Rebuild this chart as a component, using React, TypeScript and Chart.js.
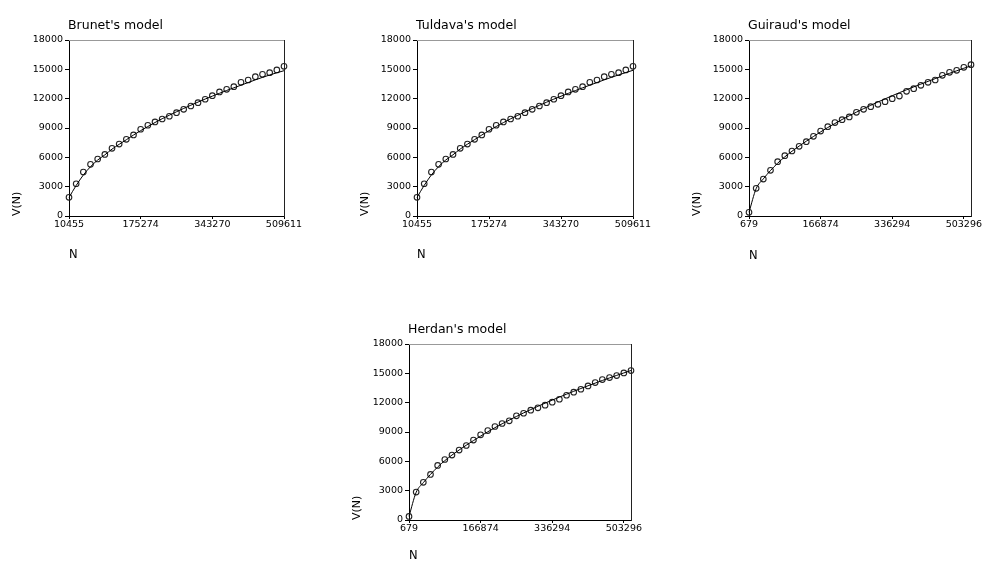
import React, { useEffect, useRef } from "react";
import { Chart, registerables } from "chart.js";

Chart.register(...registerables);

// ---------- data ----------
const yTickValues = [0, 3000, 6000, 9000, 12000, 15000, 18000];
const xTickEvery = 10;

const brunetXTicks = ["10455", "175274", "343270", "509611"];
const brunetObserved = [1910, 3300, 4500, 5280, 5830, 6300, 6920, 7360, 7840, 8290, 8870, 9280, 9620, 9920, 10200, 10570, 10910, 11250, 11590, 11940, 12310, 12690, 12960, 13230, 13670, 13910, 14250, 14490, 14660, 14940, 15310];
const brunetFitted = [1900, 3120, 4190, 5040, 5720, 6250, 6840, 7330, 7800, 8280, 8730, 9150, 9560, 9950, 10310, 10660, 11000, 11330, 11650, 11960, 12260, 12550, 12840, 13110, 13380, 13650, 13920, 14180, 14420, 14650, 14860];

const tuldavaXTicks = ["10455", "175274", "343270", "509611"];
const tuldavaObserved = [1910, 3300, 4500, 5280, 5830, 6300, 6920, 7360, 7840, 8290, 8870, 9280, 9620, 9920, 10200, 10570, 10910, 11250, 11590, 11940, 12310, 12690, 12960, 13230, 13670, 13910, 14250, 14490, 14660, 14940, 15310];
const tuldavaFitted = [1900, 3130, 4200, 5050, 5730, 6260, 6850, 7340, 7810, 8280, 8730, 9150, 9550, 9940, 10300, 10650, 10990, 11320, 11640, 11950, 12250, 12540, 12830, 13110, 13380, 13650, 13920, 14180, 14430, 14670, 14900];

const guiraudXTicks = ["679", "166874", "336294", "503296"];
const guiraudObserved = [380, 2830, 3780, 4670, 5560, 6170, 6650, 7130, 7600, 8150, 8690, 9140, 9550, 9850, 10130, 10600, 10910, 11180, 11420, 11690, 12000, 12270, 12750, 13020, 13360, 13670, 13910, 14390, 14690, 14900, 15210, 15480];
const guiraudFitted = [380, 2800, 3800, 4650, 5400, 6050, 6620, 7150, 7650, 8130, 8600, 9050, 9460, 9870, 10250, 10620, 10980, 11320, 11660, 11980, 12300, 12610, 12910, 13200, 13490, 13770, 14050, 14320, 14590, 14850, 15110, 15360];

const herdanXTicks = ["679", "166874", "336294", "503296"];
const herdanObserved = [370, 2860, 3850, 4660, 5580, 6190, 6640, 7150, 7620, 8170, 8710, 9150, 9560, 9870, 10140, 10650, 10920, 11230, 11470, 11740, 12050, 12350, 12760, 13070, 13370, 13710, 14050, 14360, 14570, 14770, 15040, 15280];
const herdanFitted = [370, 2830, 3820, 4660, 5420, 6070, 6640, 7160, 7650, 8120, 8580, 9020, 9440, 9840, 10220, 10590, 10950, 11290, 11630, 11950, 12260, 12570, 12870, 13160, 13450, 13730, 14000, 14270, 14530, 14790, 15040, 15290];

const FONT = "'DejaVu Sans', Verdana, sans-serif";

type PanelProps = {
  title: string;
  xTicks: string[];
  observed: number[];
  fitted: number[];
  left: number;
  top: number;
  right: number;
  bottom: number;
  xTitleGap: number;
};

const PAD_TOP = 40;
const Y_W = 65;
const PAD_RIGHT = 25;
const X_H = 50;

function Panel(props: PanelProps) {
  const ref = useRef<HTMLCanvasElement | null>(null);
  const { title, xTicks, observed, fitted, left, top, right, bottom, xTitleGap } = props;
  const cw = Y_W + (right - left) + PAD_RIGHT;
  const ch = PAD_TOP + (bottom - top) + X_H;

  useEffect(() => {
    const canvas = ref.current;
    if (!canvas) return;

    const framePlugin = {
      id: "frameAndTitle",
      afterDraw(chart: any) {
        const { ctx, chartArea } = chart;
        ctx.save();
        ctx.lineWidth = 1;
        ctx.strokeStyle = "#999999";
        ctx.beginPath();
        ctx.moveTo(chartArea.left, chartArea.top + 0.5);
        ctx.lineTo(chartArea.right, chartArea.top + 0.5);
        ctx.stroke();
        ctx.strokeStyle = "#222222";
        ctx.beginPath();
        ctx.moveTo(chartArea.right + 0.5, chartArea.top);
        ctx.lineTo(chartArea.right + 0.5, chartArea.bottom + 1);
        ctx.stroke();
        ctx.fillStyle = "#000000";
        ctx.font = `12.5px ${FONT}`;
        ctx.textAlign = "left";
        ctx.textBaseline = "alphabetic";
        ctx.fillText(title, chartArea.left - 1, chartArea.top - 11);
        ctx.restore();
      },
    };

    const xTitleOffset = X_H - xTitleGap;
    const xTitleLH = 11.5 * 1.2;

    const chart = new Chart(canvas, {
      type: "scatter",
      data: {
        datasets: [
          {
            data: fitted.map((v, i) => ({ x: i, y: v })),
            showLine: true,
            borderColor: "#000000",
            borderWidth: 1,
            pointRadius: 0,
            cubicInterpolationMode: "monotone",
            clip: false,
          } as any,
          {
            data: observed.map((v, i) => ({ x: i, y: v })),
            showLine: false,
            pointRadius: 2.8,
            pointBorderWidth: 1.1,
            borderColor: "#222222",
            backgroundColor: "rgba(255,255,255,0)",
            clip: false,
          } as any,
        ],
      },
      options: {
        responsive: false,
        animation: false,
        layout: { padding: { top: PAD_TOP, right: PAD_RIGHT, left: 0, bottom: 0 } },
        plugins: {
          legend: { display: false },
          tooltip: { enabled: false },
          title: { display: false },
        },
        scales: {
          x: {
            type: "linear",
            min: 0,
            max: observed.length - 1,
            afterBuildTicks: (s: any) => {
              s.ticks = xTicks.map((_, k) => ({ value: k * xTickEvery }));
            },
            afterFit: (s: any) => {
              s.height = X_H;
            },
            ticks: {
              callback: (_v: any, idx: number) => xTicks[idx],
              maxRotation: 0,
              minRotation: 0,
              autoSkip: false,
              padding: 0,
              color: "#000000",
              font: { family: FONT, size: 9.5 },
            },
            grid: { drawOnChartArea: false, drawTicks: true, tickLength: 3, color: "#000000" },
            border: { color: "#000000", width: 1 },
            title: {
              display: true,
              text: "N",
              align: "start",
              color: "#000000",
              font: { family: FONT, size: 11.5 },
              padding: { top: 0, bottom: xTitleOffset - xTitleLH / 2 },
            },
          },
          y: {
            type: "linear",
            min: 0,
            max: 18000,
            afterBuildTicks: (s: any) => {
              s.ticks = yTickValues.map((v) => ({ value: v }));
            },
            afterFit: (s: any) => {
              s.width = Y_W;
            },
            ticks: {
              callback: (v: any) => String(v),
              padding: 2,
              color: "#000000",
              font: { family: FONT, size: 9.5 },
            },
            grid: { drawOnChartArea: false, drawTicks: true, tickLength: 4, color: "#000000" },
            border: { color: "#000000", width: 1 },
            title: {
              display: true,
              text: "V(N)",
              align: "start",
              color: "#000000",
              font: { family: FONT, size: 11 },
              padding: { top: 13 - (11 * 1.2) / 2, bottom: 0 },
            },
          },
        },
      } as any,
      plugins: [framePlugin],
    });

    return () => {
      chart.destroy();
    };
  }, [title, xTicks, observed, fitted, left, top, right, bottom, xTitleGap]);

  return (
    <canvas
      ref={ref}
      width={cw}
      height={ch}
      style={{
        position: "absolute",
        left: left - Y_W,
        top: top - PAD_TOP,
        width: cw,
        height: ch,
      }}
    />
  );
}

export default function App() {
  return (
    <div
      style={{
        position: "absolute",
        left: 0,
        top: 0,
        width: 982,
        height: 563,
        overflow: "hidden",
        background: "#ffffff",
      }}
    >
      <Panel title="Brunet's model" xTicks={brunetXTicks} observed={brunetObserved} fitted={brunetFitted} left={69} top={40} right={284} bottom={216} xTitleGap={39} />
      <Panel title="Tuldava's model" xTicks={tuldavaXTicks} observed={tuldavaObserved} fitted={tuldavaFitted} left={417} top={40} right={633} bottom={216} xTitleGap={39} />
      <Panel title="Guiraud's model" xTicks={guiraudXTicks} observed={guiraudObserved} fitted={guiraudFitted} left={749} top={40} right={971} bottom={216} xTitleGap={40} />
      <Panel title="Herdan's model" xTicks={herdanXTicks} observed={herdanObserved} fitted={herdanFitted} left={409} top={344} right={631} bottom={520} xTitleGap={36} />
    </div>
  );
}
